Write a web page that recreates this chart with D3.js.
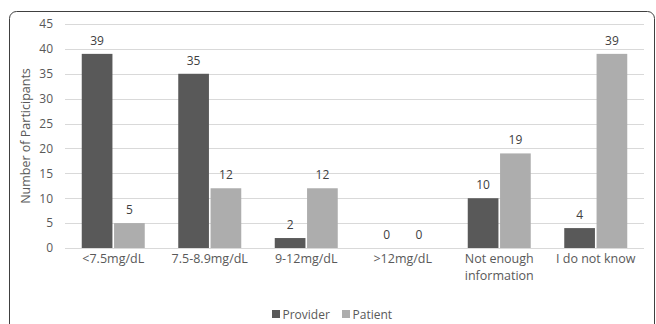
<!DOCTYPE html>
<html><head><meta charset="utf-8">
<script src="https://cdn.jsdelivr.net/npm/d3@7"></script>
<style>body{margin:0;background:#fff}svg{display:block;font-family:"Open Sans",sans-serif}</style>
</head><body>
<script>
const categories = [["<7.5mg/dL"],["7.5-8.9mg/dL"],["9-12mg/dL"],[">12mg/dL"],["Not enough","information"],["I do not know"]];
const seriesNames = ["Provider","Patient"];
const provider = [39,35,2,0,10,4];
const patient = [5,12,12,0,19,39];
const yTicks = [0,5,10,15,20,25,30,35,40,45];
const colors = ["#595959","#ADADAD"];

(function(){
const W=656,H=324;
const svg=d3.select("body").append("svg").attr("width",W).attr("height",H);
svg.append("rect").attr("x",9.5).attr("y",11.5).attr("width",645).attr("height",330).attr("rx",7)
  .attr("fill","none").attr("stroke","#404040").attr("stroke-width",1);

const mL=65,mR=644,mT=24,mB=248;
const y=d3.scaleLinear().domain([0,45]).range([mB,mT]);
const x0=d3.scaleBand().domain(d3.range(categories.length)).range([mL,mR]);
const x1=d3.scaleBand().domain(seriesNames).range([0,63]).paddingInner(0.05);

const g=svg.append("g");
g.selectAll(".grid").data(yTicks).join("line").attr("x1",mL).attr("x2",mR)
 .attr("y1",d=>Math.round(y(d))+0.5).attr("y2",d=>Math.round(y(d))+0.5).attr("stroke","#D9D9D9");

const yAxis=d3.axisLeft(y).tickValues(yTicks).tickSize(0).tickPadding(0);
const ya=g.append("g").attr("transform",`translate(${mL-12},0)`).call(yAxis);
ya.select(".domain").remove();
ya.selectAll("text").attr("fill","#595959").attr("font-family","'Open Sans',sans-serif").attr("font-size",12);

svg.append("text").attr("transform",`translate(30,${(mT+mB)/2}) rotate(-90)`).attr("text-anchor","middle")
 .attr("font-size",12.5).attr("fill","#595959").text("Number of Participants");

const data=[provider,patient];
data.forEach((vals,si)=>{
  const name=seriesNames[si];
  g.selectAll(".bar"+si).data(vals).join("rect")
   .attr("x",(d,i)=>x0(i)+x0.bandwidth()/2-31.5+x1(name))
   .attr("width",x1.bandwidth()).attr("y",d=>y(d)).attr("height",d=>mB-y(d)).attr("fill",colors[si]);
  g.selectAll(".lbl"+si).data(vals).join("text")
   .attr("x",(d,i)=>x0(i)+x0.bandwidth()/2-31.5+x1(name)+x1.bandwidth()/2)
   .attr("y",d=>y(d)-9).attr("text-anchor","middle").attr("font-size",12).attr("fill","#404040")
   .text(d=>d);
});

categories.forEach((lines,i)=>{
  const t=svg.append("text").attr("text-anchor","middle").attr("font-size",12.5).attr("fill","#595959");
  lines.forEach((l,j)=>t.append("tspan").attr("x",x0(i)+x0.bandwidth()/2).attr("y",263+j*17).text(l));
});

const leg=svg.append("g");
const legX=[272,342];
seriesNames.forEach((n,i)=>{
  leg.append("rect").attr("x",legX[i]).attr("y",310).attr("width",8).attr("height",8).attr("fill",colors[i]);
  leg.append("text").attr("x",legX[i]+10.5).attr("y",318.5).attr("font-size",12).attr("fill","#595959").text(n);
});
})();
</script>
</body></html>
